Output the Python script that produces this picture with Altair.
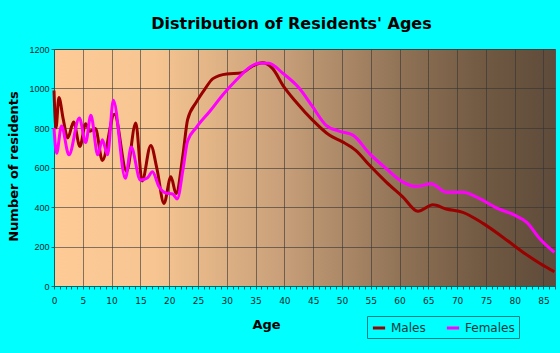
import altair as alt
import pandas as pd

# --- data ---
ages_m = [0, 0.35, 0.85, 1.6, 2.4, 3.4, 4.5, 5.5, 6.25, 7.2, 8.4, 10.5, 12.6, 14.2, 15.3,
          16.8, 17.9, 19.1, 20.3, 21.2, 22.4, 23.2, 24.7, 26.2, 27.6, 30, 32.5, 34.4, 36.2,
          37.9, 39.9, 42, 44.9, 47.8, 50.1, 52.4, 54.8, 57.7, 60.6, 63.2, 65.8, 68.1, 71,
          74.5, 78, 81.5, 84.4, 86.9]
males = [990, 800, 955, 845, 750, 830, 707, 822, 784, 797, 636, 870, 580, 825, 532,
         712, 590, 418, 553, 468, 666, 842, 930, 997, 1050, 1074, 1078, 1112, 1130,
         1103, 1010, 933, 840, 764, 730, 687, 611, 526, 450, 378, 411, 390, 373,
         317, 246, 170, 114, 72]

ages_f = [0, 0.45, 1.3, 2.6, 4.4, 5.5, 6.4, 7.6, 8.4, 9.3, 10.3, 12.4, 13.4, 15, 16.2,
          17.1, 18.2, 19.4, 20.6, 21.4, 22.4, 23.2, 24.7, 27.1, 29.4, 31.7, 34, 35.5, 37.3,
          39.7, 42.6, 44.9, 47.2, 49.5, 51.9, 54.8, 57.7, 60.6, 62.9, 65.5, 68.1, 71, 74,
          76.9, 79.8, 82.1, 84.4, 86.9]
females = [800, 672, 810, 664, 851, 726, 864, 664, 741, 664, 940, 545, 704, 537, 547,
           578, 505, 471, 466, 441, 590, 734, 802, 886, 971, 1044, 1108, 1128, 1128,
           1078, 1001, 908, 815, 784, 764, 670, 594, 526, 504, 518, 475, 475, 441,
           394, 361, 322, 238, 170]

series = ["Males", "Females"]
colors = ["#990000", "#FF00FF"]
x_ticks = list(range(0, 88))
y_ticks = [0, 200, 400, 600, 800, 1000, 1200]

df = pd.concat([
    pd.DataFrame({"Age": ages_m, "Residents": males, "Sex": "Males", "o": range(len(ages_m))}),
    pd.DataFrame({"Age": ages_f, "Residents": females, "Sex": "Females", "o": range(len(ages_f))}),
])

FONT = "Liberation Sans"
WIDE = "DejaVu Sans"

gradient_expr = (
    "{gradient:'linear', x1:0, y1:0, x2:1, y2:0, stops:["
    "{offset:0, color:'#FECB97'},"
    "{offset:0.2, color:'#F6C591'},"
    "{offset:0.45, color:'#C9A07A'},"
    "{offset:0.7, color:'#8E7155'},"
    "{offset:0.85, color:'#725A43'},"
    "{offset:1, color:'#5E4B3A'}]}"
)

chart = alt.Chart(df).mark_line(strokeWidth=3, interpolate="monotone").encode(
    x=alt.X("Age:Q",
            scale=alt.Scale(domain=[0, 87], nice=False, zero=False),
            axis=alt.Axis(
                title="Age", values=x_ticks,
                labelExpr="datum.value % 5 === 0 ? datum.label : ''",
                labelFlush=False, labelOverlap=False,
                labelFont=WIDE, labelFontSize=9,
                tickSize=3, labelPadding=7,
                grid=True,
                gridOpacity={"condition": {"test": "datum.value % 5 === 0", "value": 0.6}, "value": 0},
                titleX=212, titleY=38, titleBaseline="middle", titleAlign="center",
            )),
    y=alt.Y("Residents:Q",
            scale=alt.Scale(domain=[0, 1200], nice=False),
            axis=alt.Axis(
                title="Number of residents", values=y_ticks, format="d",
                labelFont=FONT, labelFontSize=9,
                tickSize=3, labelPadding=2, grid=True, gridOpacity=0.6,
                titleX=-41, titleY=117, titleBaseline="middle", titleAlign="center",
            )),
    color=alt.Color("Sex:N",
                    scale=alt.Scale(domain=series, range=colors),
                    legend=alt.Legend(
                        title=None, orient="none", legendX=313, legendY=267,
                        direction="horizontal", symbolType="stroke",
                        symbolStrokeWidth=3, symbolSize=150,
                        labelFont=WIDE, labelFontSize=12, labelColor="#0A3A3A",
                        strokeColor="#008080", padding=4, columnPadding=14,
                        labelOffset=4, rowPadding=0,
                    )),
    order="o:Q",
).properties(
    width=501, height=237,
    title=alt.TitleParams(
        "Distribution of Residents' Ages", font=WIDE, fontSize=16, fontWeight="bold",
        color="#000000", anchor="middle", offset=20, dx=-13, dy=7,
    ),
    autosize=alt.AutoSizeParams(type="none"),
    padding={"left": 54, "top": 49, "right": 5, "bottom": 67},
).configure(
    background="#00FFFF",
).configure_view(
    fill=alt.ExprRef(expr=gradient_expr),
    stroke="#555555",
).configure_axis(
    labelColor="#0A2A2A",
    titleFont=WIDE, titleFontSize=13, titleFontWeight="bold", titleColor="#000000",
    domainColor="#006666", tickColor="#006666", gridColor="#333333",
)

chart.save("out.html", embed_options={"renderer": "svg", "actions": False})
